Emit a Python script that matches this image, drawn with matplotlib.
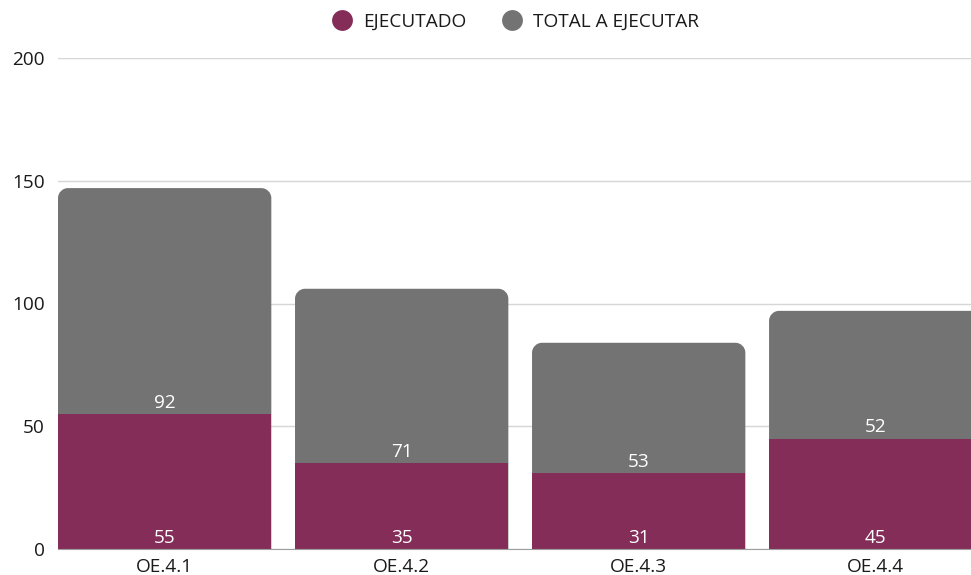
import matplotlib.pyplot as plt
from matplotlib.path import Path
from matplotlib.patches import PathPatch
from matplotlib.lines import Line2D

categories = ["OE.4.1", "OE.4.2", "OE.4.3", "OE.4.4"]
ejecutado = [55, 35, 31, 45]
total_a_ejecutar = [92, 71, 53, 52]

PURPLE = "#832d58"
GRAY = "#737373"
FS = 13.7

plt.rcParams["font.family"] = ["Open Sans", "DejaVu Sans"]

fig = plt.figure(figsize=(9.71, 5.75), dpi=100)
ax = fig.add_axes([58 / 971, 26 / 575, 1 - 58 / 971, 491 / 575])

x = list(range(len(categories)))
width = 0.9
ax.set_xlim(-0.45, 3.402)
ax.set_ylim(0, 200)

# parte ejecutada
ax.bar(x, ejecutado, width=width, color=PURPLE, zorder=3)


# barra gris con esquinas superiores redondeadas (desde 0, detras de la morada)
def rounded_top_bar(ax, xc, top, w, color, r_px=10):
    fig.canvas.draw()
    t = ax.transData
    p0 = t.transform((0, 0))
    px_x = t.transform((1, 0))[0] - p0[0]
    px_y = t.transform((0, 1))[1] - p0[1]
    rx = r_px / px_x
    ry = r_px / px_y
    x0, x1 = xc - w / 2, xc + w / 2
    y0, y1 = 0, top
    k = 0.5523
    verts = [
        (x0, y0), (x0, y1 - ry),
        (x0, y1 - ry + k * ry), (x0 + rx - k * rx, y1), (x0 + rx, y1),
        (x1 - rx, y1),
        (x1 - rx + k * rx, y1), (x1, y1 - ry + k * ry), (x1, y1 - ry),
        (x1, y0), (x0, y0),
    ]
    codes = [Path.MOVETO, Path.LINETO,
             Path.CURVE4, Path.CURVE4, Path.CURVE4,
             Path.LINETO,
             Path.CURVE4, Path.CURVE4, Path.CURVE4,
             Path.LINETO, Path.CLOSEPOLY]
    ax.add_patch(PathPatch(Path(verts, codes), facecolor=color,
                           edgecolor="none", zorder=2))


for xi, e, t in zip(x, ejecutado, total_a_ejecutar):
    rounded_top_bar(ax, xi, e + t, width, GRAY)

# etiquetas
for xi, e, t in zip(x, ejecutado, total_a_ejecutar):
    ax.annotate(str(e), (xi, 0), xytext=(0, 1.5), textcoords="offset points",
                ha="center", va="bottom", color="white", fontsize=FS, zorder=4)
    ax.annotate(str(t), (xi, e), xytext=(0, 1.5), textcoords="offset points",
                ha="center", va="bottom", color="white", fontsize=FS, zorder=4)

ax.set_yticks([0, 50, 100, 150, 200])
ax.set_xticks(x)
ax.set_xticklabels(categories)
ax.tick_params(axis="both", length=0, labelsize=FS, colors="#1a1a1a")
ax.tick_params(axis="x", pad=6.5)
ax.tick_params(axis="y", pad=9.5)
ax.grid(axis="y", color="#d6d6d6", linewidth=1, zorder=0)
for s in ["top", "right", "left"]:
    ax.spines[s].set_visible(False)
ax.spines["bottom"].set_color("#9e9e9e")
ax.spines["bottom"].set_zorder(5)

handles = [
    Line2D([], [], marker="o", linestyle="none", markersize=15,
           markerfacecolor=PURPLE, markeredgecolor="none", label="EJECUTADO"),
    Line2D([], [], marker="o", linestyle="none", markersize=15,
           markerfacecolor=GRAY, markeredgecolor="none", label="TOTAL A EJECUTAR"),
]
fig.legend(handles=handles, loc="center", bbox_to_anchor=(515 / 971, 1 - 22 / 575),
           ncol=2, frameon=False, fontsize=FS, handletextpad=0.5,
           columnspacing=1.8, handlelength=1.2, labelcolor="#1a1a1a")

fig.savefig("out.png", dpi=100)
